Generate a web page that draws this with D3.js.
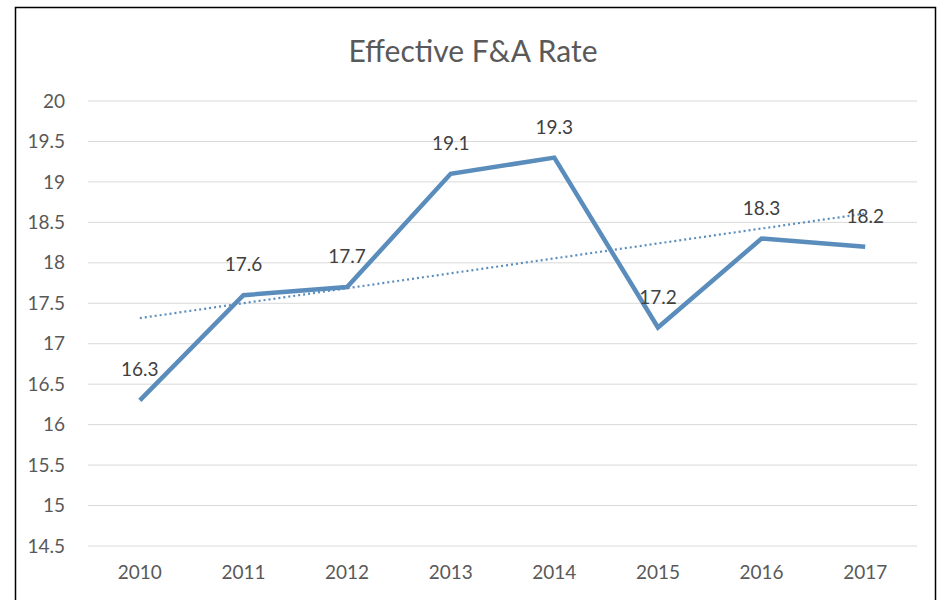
<!DOCTYPE html>
<html>
<head>
<meta charset="utf-8">
<script src="https://cdn.jsdelivr.net/npm/d3@7/dist/d3.min.js"></script>
<style>
  html, body { margin: 0; padding: 0; background: #fff; }
  svg { display: block; }
</style>
</head>
<body>
<svg id="chart" width="945" height="600"></svg>
<script>
// Effective F&A rate by fiscal year
const years = ["2010", "2011", "2012", "2013", "2014", "2015", "2016", "2017"];
const rates = [16.3, 17.6, 17.7, 19.1, 19.3, 17.2, 18.3, 18.2];
const yTicks = [14.5, 15, 15.5, 16, 16.5, 17, 17.5, 18, 18.5, 19, 19.5, 20];
const title = "Effective F&A Rate";

const W = 945, H = 600;
const frame = { x: 15, y: 7, w: 920 };
const margin = { left: 88, right: 28, top: 101, bottom: 54 };
const font = "Lato, 'Open Sans', sans-serif";

const svg = d3.select("#chart");

// outer frame
svg.append("rect")
  .attr("x", frame.x + 0.5).attr("y", frame.y + 0.5)
  .attr("width", frame.w).attr("height", H)
  .attr("fill", "#fff").attr("stroke", "#000").attr("stroke-width", 1.5);

const x = d3.scaleBand().domain(years).range([margin.left, W - margin.right]);
const y = d3.scaleLinear().domain([14.5, 20]).range([H - margin.bottom, margin.top]);

// gridlines
svg.append("g").selectAll("line").data(yTicks).join("line")
  .attr("x1", margin.left).attr("x2", W - margin.right)
  .attr("y1", d => y(d)).attr("y2", d => y(d))
  .attr("stroke", "#d9d9d9").attr("stroke-width", 1);

// y axis labels
const yAxis = d3.axisLeft(y).tickValues(yTicks).tickSize(0).tickPadding(23)
  .tickFormat(d => String(d));
svg.append("g").attr("transform", `translate(${margin.left},0)`).call(yAxis)
  .call(g => g.select(".domain").remove())
  .call(g => g.selectAll("text").attr("fill", "#595959")
    .style("font-family", font).style("font-size", "19px"));

// x axis labels
const xAxis = d3.axisBottom(x).tickSize(0).tickPadding(20);
svg.append("g").attr("transform", `translate(0,${H - margin.bottom})`).call(xAxis)
  .call(g => g.select(".domain").remove())
  .call(g => g.selectAll("text").attr("fill", "#595959")
    .style("font-family", font).style("font-size", "19px"));

// title, centred on the frame
svg.append("text")
  .attr("x", frame.x + frame.w / 2 - 2).attr("y", 62)
  .attr("text-anchor", "middle")
  .attr("fill", "#595959")
  .style("font-family", font).style("font-size", "30px")
  .text(title);

const cx = d => x(d) + x.bandwidth() / 2;

// linear trendline (least squares over the series)
const n = rates.length;
const mx = d3.mean(d3.range(n));
const my = d3.mean(rates);
const slope = d3.sum(d3.range(n), i => (i - mx) * (rates[i] - my)) /
              d3.sum(d3.range(n), i => (i - mx) ** 2);
const icpt = my - slope * mx;
svg.append("line")
  .attr("x1", cx(years[0])).attr("y1", y(icpt))
  .attr("x2", cx(years[n - 1])).attr("y2", y(icpt + slope * (n - 1)))
  .attr("stroke", "#5b8ebd").attr("stroke-width", 2.2)
  .attr("stroke-dasharray", "2,3");

// series line
const line = d3.line().x((d, i) => cx(years[i])).y(d => y(d));
svg.append("path").datum(rates)
  .attr("d", line)
  .attr("fill", "none")
  .attr("stroke", "#5a8dbc").attr("stroke-width", 4.5)
  .attr("stroke-linejoin", "miter").attr("stroke-linecap", "butt");

// data labels above each point
svg.append("g").selectAll("text").data(rates).join("text")
  .attr("x", (d, i) => cx(years[i]))
  .attr("y", d => y(d) - 24)
  .attr("text-anchor", "middle")
  .attr("fill", "#404040")
  .style("font-family", font).style("font-size", "19px")
  .text(d => d.toFixed(1));
</script>
</body>
</html>
